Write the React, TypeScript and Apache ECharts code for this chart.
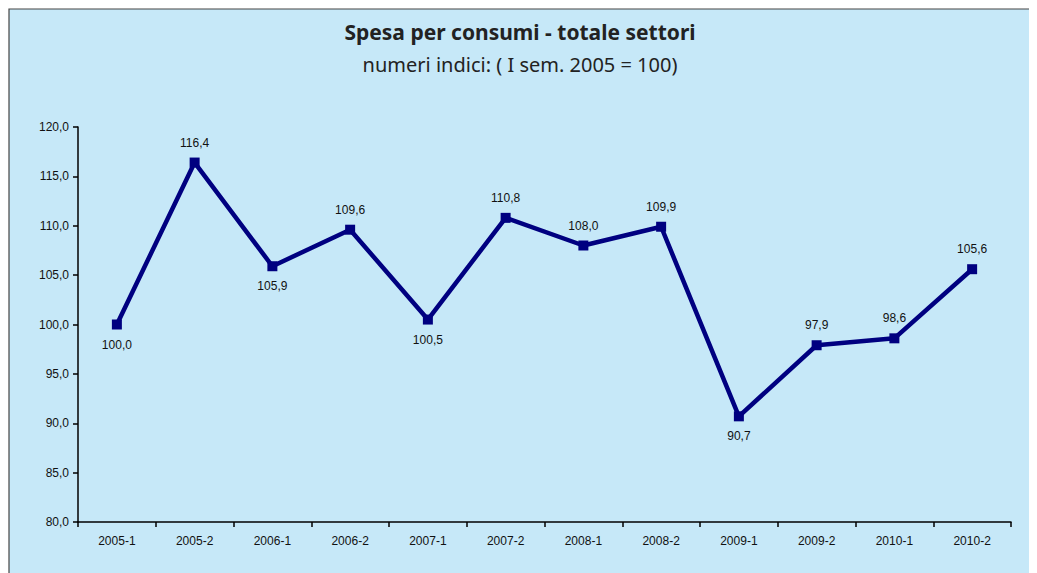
import React, { useEffect, useRef } from "react";
import * as echarts from "echarts";

const categories = ["2005-1", "2005-2", "2006-1", "2006-2", "2007-1", "2007-2", "2008-1", "2008-2", "2009-1", "2009-2", "2010-1", "2010-2"];
const values = [100.0, 116.4, 105.9, 109.6, 100.5, 110.8, 108.0, 109.9, 90.7, 97.9, 98.6, 105.6];
const labelBelow = [true, false, true, false, true, false, false, false, true, false, false, false];
const titleText = "Spesa per consumi - totale settori";
const subtitleText = "numeri indici: ( I sem. 2005 = 100)";

const fmt = (v: number) => v.toFixed(1).replace(".", ",");

export default function App() {
  const ref = useRef<HTMLDivElement>(null);
  useEffect(() => {
    if (!ref.current) return;
    const chart = echarts.init(ref.current, undefined, { renderer: "svg" });
    chart.setOption({
      animation: false,
      backgroundColor: "#ffffff",
      graphic: [
        {
          type: "rect",
          z: -10,
          silent: true,
          shape: { x: 1, y: 1, width: 1022, height: 600 },
          style: { fill: "#c6e8f8", stroke: "#444", lineWidth: 1.2 },
        },
        {
          type: "text",
          x: 512,
          y: 24,
          style: {
            text: titleText,
            font: "bold 21px 'Noto Sans', sans-serif",
            fill: "#222",
            align: "center",
            verticalAlign: "middle",
          },
        },
        {
          type: "text",
          x: 512,
          y: 56,
          style: {
            text: subtitleText,
            font: "20px 'Noto Sans', sans-serif",
            fill: "#222",
            align: "center",
            verticalAlign: "middle",
          },
        },
      ],
      grid: { left: 70, right: 26, top: 119, bottom: 51 },
      xAxis: {
        type: "category",
        data: categories,
        boundaryGap: true,
        axisLine: { lineStyle: { color: "#000", width: 1.5 } },
        axisTick: { show: true, length: 5, lineStyle: { color: "#000", width: 1.5 } },
        axisLabel: { color: "#111", fontSize: 12, fontFamily: "'Liberation Sans', Arial, sans-serif", margin: 13 },
        splitLine: { show: false },
      },
      yAxis: {
        type: "value",
        min: 80,
        max: 120,
        interval: 5,
        axisLine: { show: true, lineStyle: { color: "#000", width: 1.5 } },
        axisTick: { show: true, length: 5, lineStyle: { color: "#000", width: 1.5 } },
        axisLabel: {
          color: "#111",
          fontSize: 12,
          fontFamily: "'Liberation Sans', Arial, sans-serif",
          margin: 9,
          formatter: (v: number) => fmt(v),
        },
        splitLine: { show: false },
      },
      series: [
        {
          type: "line",
          data: values.map((v, i) => ({
            value: v,
            label: { position: labelBelow[i] ? "bottom" : "top" },
          })),
          lineStyle: { color: "#000080", width: 4.5 },
          itemStyle: { color: "#000080" },
          symbol: "rect",
          symbolSize: 10,
          label: {
            show: true,
            distance: 9,
            color: "#111",
            fontSize: 12,
            fontFamily: "'Liberation Sans', Arial, sans-serif",
            formatter: (p: any) => fmt(p.value),
          },
        },
      ],
    });
    return () => chart.dispose();
  }, []);
  return <div ref={ref} style={{ width: 1029, height: 565 }} />;
}
